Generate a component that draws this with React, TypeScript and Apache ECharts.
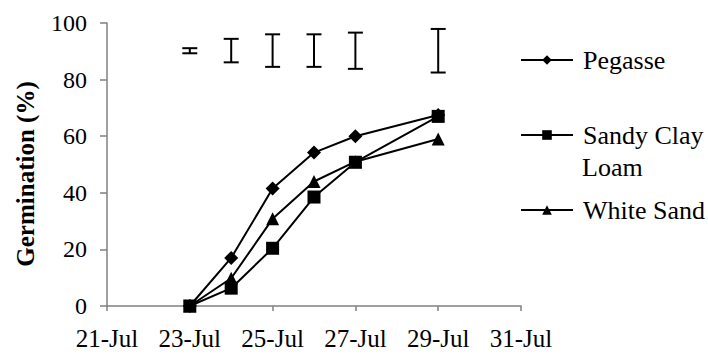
import React, { useEffect, useRef } from "react";
import * as echarts from "echarts";

// Days of July
const days = [23, 24, 25, 26, 27, 29];
const pegasse = [0, 17, 41.5, 54.2, 60, 67.5];
const sandyClayLoam = [0, 6.3, 20.4, 38.5, 50.8, 67];
const whiteSand = [0, 9.8, 30.8, 44, 51, 59];

// Error bars (LSD) drawn at top
const errDays = [23, 24, 25, 26, 27, 29];
const errLow = [89.3, 86.1, 84.5, 84.5, 83.8, 82.5];
const errHigh = [91.1, 94.4, 96.0, 96.0, 96.6, 97.9];

const xTicks = [21, 23, 25, 27, 29, 31];
const yTicks = [0, 20, 40, 60, 80, 100];

const FONT = "Liberation Serif";

export default function App() {
  const ref = useRef<HTMLDivElement>(null);
  useEffect(() => {
    if (!ref.current) return;
    const chart = echarts.init(ref.current, undefined, { renderer: "svg" });
    const toPts = (vals: number[]) => days.map((d, i) => [d, vals[i]]);
    const legendBase = {
      orient: "vertical" as const,
      left: 515,
      itemWidth: 52,
      itemHeight: 12,
      textStyle: { fontFamily: FONT, fontSize: 26, color: "#000", padding: [0, 0, 0, 5] },
      selectedMode: false,
    };
    chart.setOption({
      animation: false,
      backgroundColor: "#fff",
      textStyle: { fontFamily: FONT },
      grid: { left: 107, right: 187, top: 23, bottom: 50, containLabel: false },
      legend: [
        { ...legendBase, data: ["Pegasse"], top: 42 },
        { ...legendBase, data: ["Sandy Clay Loam"], top: 117, formatter: () => "Sandy Clay" },
        { ...legendBase, data: ["White Sand"], top: 192 },
      ],
      graphic: [
        {
          type: "text",
          x: 582,
          y: 167,
          style: {
            text: "Loam",
            fontFamily: FONT,
            fontSize: 26,
            fill: "#000",
            textAlign: "left",
            textVerticalAlign: "middle",
          },
        },
        {
          type: "text",
          x: 25,
          y: 174,
          rotation: Math.PI / 2,
          style: {
            text: "Germination (%)",
            fontFamily: FONT,
            fontSize: 25,
            fontWeight: "bold",
            fill: "#000",
            textAlign: "center",
            textVerticalAlign: "middle",
          },
        },
      ],
      xAxis: {
        type: "value",
        min: xTicks[0],
        max: xTicks[xTicks.length - 1],
        interval: 2,
        splitLine: { show: false },
        axisLine: { lineStyle: { color: "#808080", width: 1.5 } },
        axisTick: { show: true, inside: false, length: 5, lineStyle: { color: "#808080", width: 1.5 } },
        axisLabel: {
          color: "#000",
          fontFamily: FONT,
          fontSize: 25,
          margin: 20,
          formatter: (v: number) => `${v}-Jul`,
        },
      },
      yAxis: {
        type: "value",
        min: yTicks[0],
        max: yTicks[yTicks.length - 1],
        interval: 20,
        splitLine: { show: false },
        axisLine: { show: true, lineStyle: { color: "#808080", width: 1.5 } },
        axisTick: { show: true, inside: false, length: 7, lineStyle: { color: "#808080", width: 1.5 } },
        axisLabel: { color: "#000", fontFamily: FONT, fontSize: 24, margin: 20 },
      },
      series: [
        {
          name: "Pegasse",
          type: "line",
          data: toPts(pegasse),
          symbol: "diamond",
          symbolSize: 14,
          lineStyle: { color: "#000", width: 2 },
          itemStyle: { color: "#000" },
        },
        {
          name: "White Sand",
          type: "line",
          data: toPts(whiteSand),
          symbol: "triangle",
          symbolSize: 13,
          lineStyle: { color: "#000", width: 2 },
          itemStyle: { color: "#000" },
        },
        {
          name: "Sandy Clay Loam",
          type: "line",
          data: toPts(sandyClayLoam),
          symbol: "rect",
          symbolSize: 13,
          lineStyle: { color: "#000", width: 2 },
          itemStyle: { color: "#000" },
        },
        {
          name: "errors",
          type: "custom",
          data: errDays.map((d, i) => [d, errLow[i], errHigh[i]]),
          renderItem: (params: any, api: any) => {
            const lo = api.coord([api.value(0), api.value(1)]);
            const hi = api.coord([api.value(0), api.value(2)]);
            const w = 7.5;
            const style = { stroke: "#000", lineWidth: 2 };
            return {
              type: "group",
              children: [
                { type: "line", shape: { x1: lo[0], y1: lo[1], x2: hi[0], y2: hi[1] }, style },
                { type: "line", shape: { x1: lo[0] - w, y1: lo[1], x2: lo[0] + w, y2: lo[1] }, style },
                { type: "line", shape: { x1: hi[0] - w, y1: hi[1], x2: hi[0] + w, y2: hi[1] }, style },
              ],
            };
          },
        },
      ],
    });
    return () => chart.dispose();
  }, []);
  return (
    <div
      ref={ref}
      style={{ position: "fixed", left: 0, top: 0, width: 708, height: 356, background: "#fff" }}
    />
  );
}
